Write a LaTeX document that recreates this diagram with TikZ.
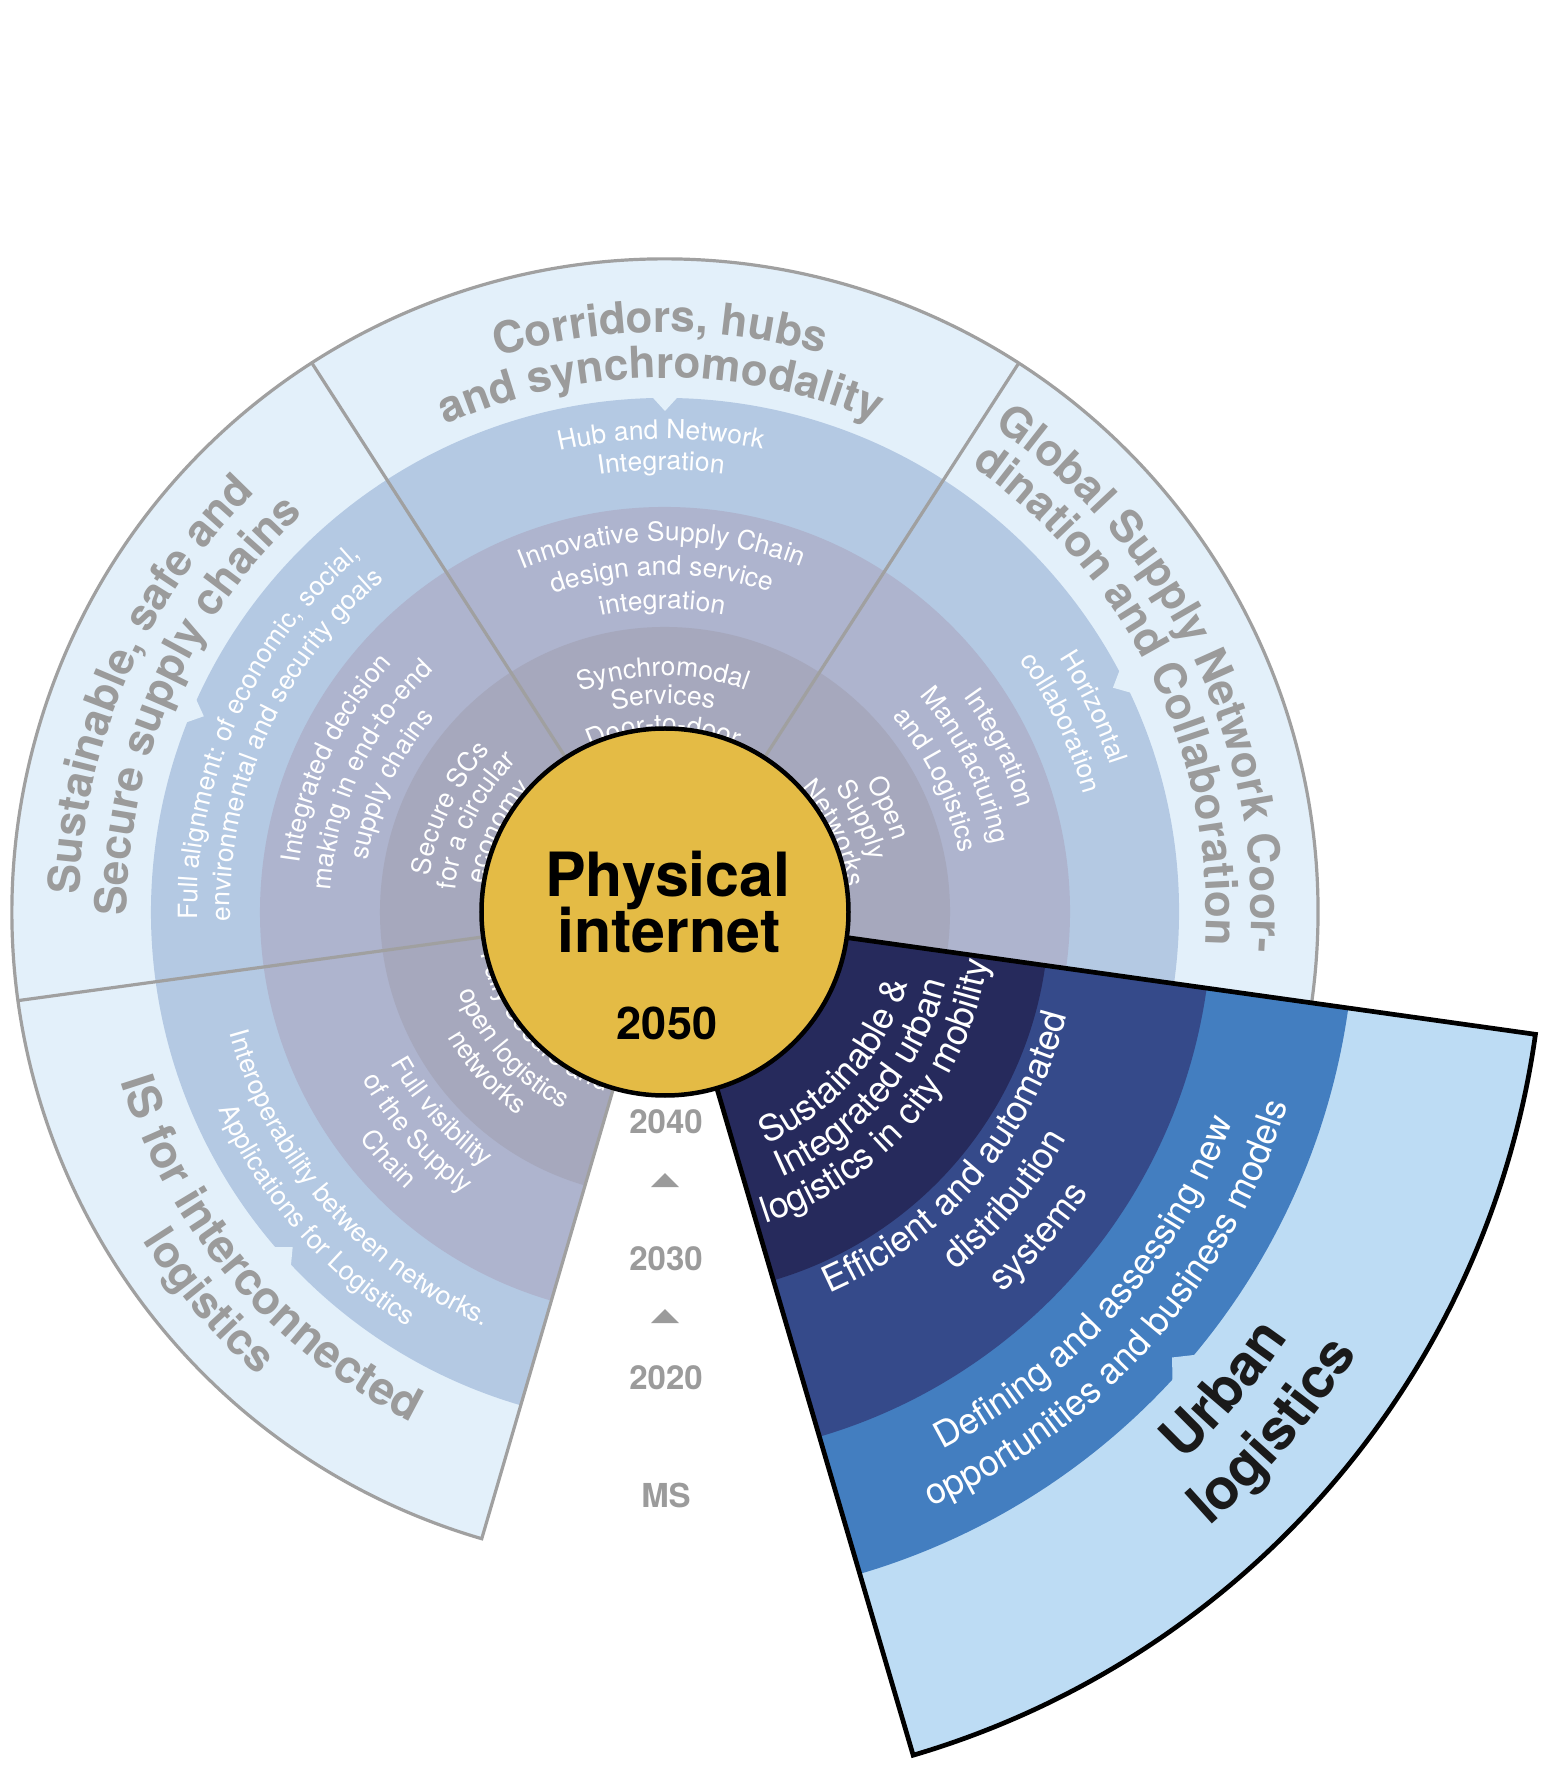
\documentclass[tikz,border=0pt]{standalone}
\usepackage{fontspec}
\setmainfont{TeX Gyre Heros}
\usetikzlibrary{decorations.text}
\definecolor{lightring}{HTML}{E3F0FA}
\definecolor{ringthree}{HTML}{B4C9E3}
\definecolor{ringtwo}{HTML}{AEB4CE}
\definecolor{ringone}{HTML}{A6A8BD}
\definecolor{divgray}{HTML}{A0A0A0}
\definecolor{titlegray}{HTML}{9B9B9B}
\definecolor{urbanlight}{HTML}{BDDCF4}
\definecolor{urbanthree}{HTML}{437EC0}
\definecolor{urbantwo}{HTML}{354A8A}
\definecolor{urbanone}{HTML}{262A5C}
\definecolor{piyellow}{HTML}{E4BB45}
\definecolor{urbantitle}{HTML}{1A1A1A}
\newcommand\TFont{\fontsize{44}{50}\selectfont\bfseries\color{titlegray}}
\newcommand\TBFont{\fontsize{46}{52}\selectfont\bfseries\color{titlegray}}
\newcommand\LFont{\fontsize{26.5}{30}\selectfont\color{white}}
\newcommand\ULFont{\fontsize{36}{40}\selectfont\color{white}}
\newcommand\UTFont{\fontsize{56.5}{62}\selectfont\bfseries\color{urbantitle}}
% text along a clockwise arc (tops outward)
\newcommand\cwtext[4]{\path[decorate,decoration={text along path,text align=center,text={|#3|#4}}] ({#1+50}:#2pt) arc[start angle={#1+50},end angle={#1-50},radius=#2pt];}
% text along a counter-clockwise arc (tops inward)
\newcommand\ccwtext[4]{\path[decorate,decoration={text along path,text align=center,text={|#3|#4}}] ({#1-50}:#2pt) arc[start angle={#1-50},end angle={#1+50},radius=#2pt];}
\tikzset{
  divline/.style={draw=divgray, line width=3.2pt},
  urbanedge/.style={draw=black, line width=4.7pt, line join=miter},
  yearlabel/.style={anchor=base, font=\fontsize{33}{33}\selectfont\bfseries, text=titlegray, inner sep=0pt},
  coretext/.style={anchor=base, font=\fontsize{61}{61}\selectfont\bfseries, text=black, inner sep=0pt}
}
\begin{document}
\begin{tikzpicture}[x=1pt,y=1pt]
\useasboundingbox (-665,-875) rectangle (887,912);
\fill[white] (-665,-875) rectangle (887,912);

% ---- four light sectors ----
\fill[lightring] (0,0) -- (-8:653pt) arc[start angle=-8,end angle=253.7,radius=653pt] -- cycle;
\fill[ringthree] (0,0) -- (-8:514pt) arc[start angle=-8,end angle=253.7,radius=514pt] -- cycle;
\fill[ringtwo]   (0,0) -- (-8:405pt) arc[start angle=-8,end angle=253.7,radius=405pt] -- cycle;
\fill[ringone]   (0,0) -- (-8:285pt) arc[start angle=-8,end angle=253.7,radius=285pt] -- cycle;
\foreach \a in {90,157,26.6,222} {
  \fill[lightring] ({\a-1.6}:517pt) -- (\a:501pt) -- ({\a+1.6}:517pt) -- cycle;
}
\draw[divline] (0,0) -- (57.2:653pt);
\draw[divline] (0,0) -- (122.75:653pt);
\draw[divline] (0,0) -- (187.8:653pt);
\draw[divline] (0,0) -- (253.7:653pt) arc[start angle=253.7,end angle=-8,radius=653pt];

% ---- urban logistics sector ----
\fill[urbanlight] (0,0) -- (286.4:879pt) arc[start angle=286.4,end angle=352,radius=879pt] -- cycle;
\fill[urbanthree] (0,0) -- (286.4:690pt) arc[start angle=286.4,end angle=352,radius=690pt] -- cycle;
\fill[urbantwo]   (0,0) -- (286.4:547pt) arc[start angle=286.4,end angle=352,radius=547pt] -- cycle;
\fill[urbanone]   (0,0) -- (286.4:384pt) arc[start angle=286.4,end angle=352,radius=384pt] -- cycle;
\fill[urbanlight] (317:694pt) -- (318.7:675pt) -- (320.4:694pt) -- cycle;
\draw[urbanedge] (0,0) -- (286.4:879pt) arc[start angle=286.4,end angle=352,radius=879pt] -- cycle;

% ---- Corridors ----
\cwtext{90.5}{580}{\TFont}{Corridors, hubs}
\cwtext{90.5}{534}{\TFont}{and synchromodality}
\cwtext{90.5}{473}{\LFont}{Hub and Network}
\cwtext{90.5}{442}{\LFont}{Integration}
\cwtext{90.5}{371}{\LFont}{Innovative Supply Chain}
\cwtext{90.5}{337}{\LFont}{design and service}
\cwtext{90.5}{303}{\LFont}{integration}
\cwtext{90.5}{236}{\LFont}{Synchromodal}
\cwtext{90.5}{208}{\LFont}{Services}
\cwtext{90.5}{179}{\LFont}{Door-to-door}

% ---- Sustainable ----
\cwtext{156.3}{586}{\TFont}{Sustainable, safe and}
\cwtext{156.3}{538}{\TFont}{Secure supply chains}
\cwtext{155.7}{468}{\LFont}{Full alignment: of economic, social,}
\cwtext{155.7}{435}{\LFont}{environmental and security goals}
\cwtext{155}{369}{\LFont}{Integrated decision}
\cwtext{155}{335}{\LFont}{making in end-to-end}
\cwtext{155}{302}{\LFont}{supply chains}
\cwtext{154.3}{238}{\LFont}{Secure SCs}
\cwtext{154.3}{211}{\LFont}{for a circular}
\cwtext{154.3}{182}{\LFont}{economy}

% ---- Global ----
\cwtext{26}{586}{\TFont}{Global Supply Network Coor-}
\cwtext{26}{541}{\TFont}{dination and Collaboration}
\cwtext{25.5}{469}{\LFont}{Horizontal}
\cwtext{25.5}{435}{\LFont}{collaboration}
\cwtext{26}{368}{\LFont}{Integration}
\cwtext{26}{334}{\LFont}{Manufacturing}
\cwtext{26}{300}{\LFont}{and Logistics}
\cwtext{25}{239}{\LFont}{Open}
\cwtext{25}{211}{\LFont}{Supply}
\cwtext{25}{183}{\LFont}{Networks}

% ---- IS ----
\ccwtext{220.4}{570}{\TBFont}{IS for interconnected}
\ccwtext{220.5}{617}{\TFont}{logistics}
\ccwtext{221}{452}{\LFont}{Interoperability between networks.}
\ccwtext{221}{488}{\LFont}{Applications for Logistics}
\ccwtext{221.8}{313}{\LFont}{Full visibility}
\ccwtext{221.8}{346}{\LFont}{of the Supply}
\ccwtext{221.8}{380}{\LFont}{Chain}
\ccwtext{222}{189}{\LFont}{Fully secure and}
\ccwtext{222}{222}{\LFont}{open logistics}
\ccwtext{222}{251}{\LFont}{networks}

% ---- Urban ----
\ccwtext{318.7}{253}{\ULFont}{Sustainable {\&}}
\ccwtext{319.8}{290}{\ULFont}{Integrated urban}
\ccwtext{319.65}{327}{\ULFont}{logistics in city mobility}
\ccwtext{319.5}{415}{\ULFont}{Efficient and automated}
\ccwtext{319.8}{461}{\ULFont}{distribution}
\ccwtext{319}{508}{\ULFont}{systems}
\ccwtext{318.5}{605}{\ULFont}{Defining and assessing new}
\ccwtext{318.5}{652}{\ULFont}{opportunities and business models}
\ccwtext{319.5}{755}{\UTFont}{Urban}
\ccwtext{319.5}{821}{\UTFont}{logistics}

% ---- core ----
\node[circle, fill=piyellow, draw=black, line width=4.5pt, minimum size=367pt, inner sep=0pt] (core) at (0,0) {};
\node[coretext] (phys) at (3,15) {Physical};
\node[coretext] (inet) at (4,-41) {internet};
\node[anchor=base, font=\fontsize{45}{45}\selectfont\bfseries, inner sep=0pt] (yr) at (2,-128) {2050};

% ---- timeline ----
\node[yearlabel] (t2040) at (1,-221) {2040};
\fill[titlegray] (-14,-275) -- (14,-275) -- (0,-261) -- cycle;
\node[yearlabel] (t2030) at (1,-358) {2030};
\fill[titlegray] (-14,-411) -- (14,-411) -- (0,-397) -- cycle;
\node[yearlabel] (t2020) at (1,-477) {2020};
\node[yearlabel] (tms) at (1,-595) {MS};
\end{tikzpicture}
\end{document}
